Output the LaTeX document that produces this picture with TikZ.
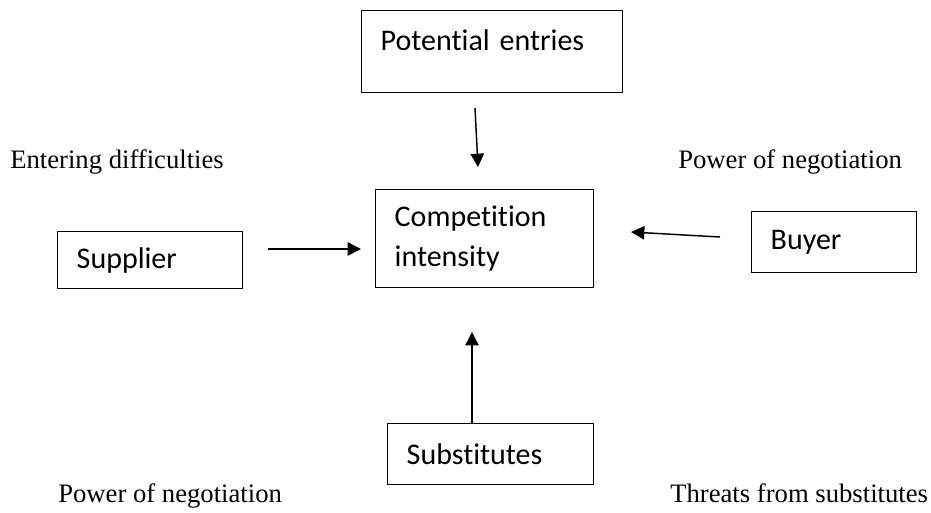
\documentclass[tikz,border=0pt]{standalone}
\usepackage{fontspec}
\setmainfont{Liberation Serif}
\newfontfamily\boxfont[RawFeature={-liga;-clig;-dlig}]{Carlito}
\usetikzlibrary{arrows.meta}
\usetikzlibrary{positioning}

\tikzset{
  box/.style={draw, line width=1.1pt, rectangle, anchor=north west, align=left,
    inner xsep=14.25pt, inner ysep=0pt, font=\boxfont\fontsize{22.5}{30}\selectfont},
  note/.style={anchor=base west, inner sep=0pt, font=\fontsize{20}{24}\selectfont},
  push/.style={-{Triangle[length=10pt,width=10pt]}, line width=1.1pt}
}

\begin{document}
\begin{tikzpicture}[x=0.75pt,y=0.75pt,yscale=-1,xscale=1]
  \useasboundingbox (0,0) rectangle (931,512); %same frame as the reference

  % boxes
  \node [box, text width=167.25pt, text depth=18pt, minimum height=61.5pt] (pot) at (361,10) {Potential entries};
  \node [box, text width=135pt, minimum height=73.5pt] (comp) at (375,189) {Competition\\intensity};
  \node [box, text width=110.25pt, minimum height=42.75pt] (sup) at (57,231) {Supplier};
  \node [box, text width=95.25pt, minimum height=45.75pt] (buy) at (751,211) {Buyer};
  \node [box, text width=126pt, minimum height=45.75pt] (sub) at (387,423) {Substitutes};

  % labels
  \node [note] (ent) at (10,168) {Entering difficulties};
  \node [note] (powbuy) at (678,168) {Power of negotiation};
  \node [note] (powsup) at (58,502) {Power of negotiation};
  \node [note] (threat) at (670,502) {Threats from substitutes};

  % arrow ends
  \coordinate (pot-out) at (475,108);
  \coordinate (comp-top) at (478,167);
  \coordinate (sup-out) at (268,249);
  \coordinate (comp-left) at (361,249);
  \coordinate (buy-out) at (720,237);
  \coordinate (comp-right) at (631,232);
  \coordinate (sub-out) at (472,423);
  \coordinate (comp-bottom) at (472,332);

  \draw [push] (pot-out) -- (comp-top);
  \draw [push] (sup-out) -- (comp-left);
  \draw [push] (buy-out) -- (comp-right);
  \draw [push] (sub-out) -- (comp-bottom);

\end{tikzpicture}
\end{document}
